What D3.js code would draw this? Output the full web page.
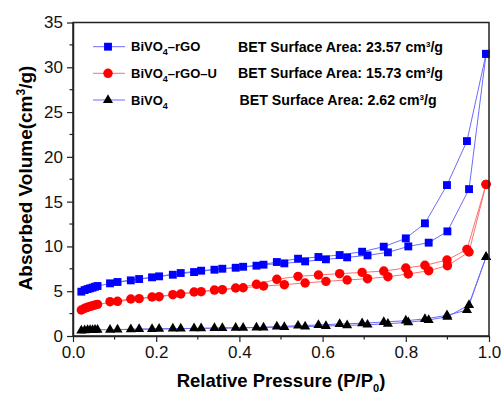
<!DOCTYPE html>
<html>
<head>
<meta charset="utf-8">
<script src="https://cdn.jsdelivr.net/npm/d3@7"></script>
<style>
  body { margin: 0; background: #fff; }
  text { font-family: "Liberation Sans", Arial, sans-serif; }
</style>
</head>
<body>
<script>
// relative pressure points, adsorption (up) and desorption (down) branches
var adsX = [0.02, 0.028, 0.035, 0.041, 0.047, 0.053, 0.059, 0.107, 0.159, 0.207, 0.259, 0.308, 0.359,
            0.409, 0.458, 0.508, 0.558, 0.608, 0.659, 0.708, 0.757, 0.806, 0.855, 0.90, 0.952, 0.993];
var desX = [0.993, 0.947, 0.899, 0.846, 0.80, 0.747, 0.695, 0.641, 0.59, 0.541, 0.49, 0.441, 0.391,
            0.34, 0.291, 0.24, 0.19, 0.139, 0.089];

var rgoAds = [4.95, 5.13, 5.24, 5.32, 5.40, 5.50, 5.58, 6.03, 6.36, 6.66, 7.03, 7.29, 7.51,
              7.73, 7.96, 8.11, 8.33, 8.56, 8.78, 9.0, 9.34, 10.0, 10.42, 11.68, 16.4, 31.5];
var rgoDes = [31.5, 21.76, 16.85, 12.58, 10.9, 9.97, 9.41, 9.04, 8.82, 8.63, 8.26, 7.85, 7.62,
              7.40, 7.14, 6.84, 6.55, 6.21, 5.88];

var rgoUAds = [2.9, 3.09, 3.2, 3.31, 3.38, 3.46, 3.53, 3.87, 4.17, 4.39, 4.69, 4.95, 5.17,
               5.39, 5.58, 5.73, 5.92, 6.1, 6.25, 6.4, 6.62, 6.92, 7.29, 7.85, 9.38, 16.93];
var rgoUDes = [16.93, 9.67, 8.48, 7.89, 7.59, 7.25, 7.1, 6.96, 6.81, 6.66, 6.33, 5.77, 5.36,
               5.13, 4.91, 4.61, 4.35, 4.13, 3.83];

var bvAds = [0.6, 0.63, 0.65, 0.66, 0.67, 0.68, 0.69, 0.72, 0.76, 0.79, 0.82, 0.85, 0.88,
             0.92, 0.95, 1.0, 1.04, 1.12, 1.19, 1.26, 1.37, 1.53, 1.79, 2.15, 3.46, 8.82];
var bvDes = [8.82, 2.9, 2.31, 1.9, 1.71, 1.56, 1.42, 1.34, 1.23, 1.15, 1.04, 0.95, 0.92,
             0.88, 0.85, 0.82, 0.78, 0.74, 0.7];

var names = ["BiVO|4|\u2013rGO", "BiVO|4|\u2013rGO\u2013U", "BiVO|4|"];
var bet = ["23.57", "15.73", "2.62"];

var xTicks = [0, 0.2, 0.4, 0.6, 0.8, 1.0];
var yTicks = [0, 5, 10, 15, 20, 25, 30, 35];

var series = [
  {ads: rgoAds, des: rgoDes, fill: "#0000ff", line: "#6b6bff", sym: d3.symbolSquare, size: 62},
  {ads: rgoUAds, des: rgoUDes, fill: "#ff0000", line: "#ff7070", sym: d3.symbolCircle, size: 70},
  {ads: bvAds, des: bvDes, fill: "#000000", line: "#6b6bff", sym: d3.symbolTriangle, size: 44}
];

var W = 503, H = 394;
var m = {left: 73, right: 14, top: 22.5, bottom: 58};

var svg = d3.select("body").append("svg").attr("width", W).attr("height", H);

var x = d3.scaleLinear().domain([0, 1]).range([m.left, W - m.right]);
var y = d3.scaleLinear().domain([0, 35]).range([H - m.bottom, m.top]);

var line = d3.line().x(function(d) { return x(d[0]); }).y(function(d) { return y(d[1]); });

series.forEach(function(s) {
  var a = adsX.map(function(v, i) { return [v, s.ads[i]]; });
  var d = desX.map(function(v, i) { return [v, s.des[i]]; });
  [a, d].forEach(function(pts) {
    svg.append("path").attr("d", line(pts))
      .attr("fill", "none").attr("stroke", s.line).attr("stroke-width", 1);
  });
  svg.append("g").selectAll("path").data(a.concat(d)).enter().append("path")
    .attr("transform", function(p) { return "translate(" + x(p[0]) + "," + y(p[1]) + ")"; })
    .attr("d", d3.symbol().type(s.sym).size(s.size))
    .attr("fill", s.fill);
});

// frame
svg.append("rect")
  .attr("x", m.left).attr("y", m.top)
  .attr("width", W - m.left - m.right).attr("height", H - m.top - m.bottom)
  .attr("fill", "none").attr("stroke", "#222").attr("stroke-width", 1.5);

function minor(g, vals, horiz) {
  g.selectAll("line.mn").data(vals).enter().append("line")
    .attr("stroke", "#222").attr("stroke-width", 1.2)
    .attr("x1", function(v) { return horiz ? x(v) : m.left; })
    .attr("x2", function(v) { return horiz ? x(v) : m.left - 3.5; })
    .attr("y1", function(v) { return horiz ? H - m.bottom : y(v); })
    .attr("y2", function(v) { return horiz ? H - m.bottom + 3.5 : y(v); });
}

var gx = svg.append("g").attr("transform", "translate(0," + (H - m.bottom) + ")")
  .call(d3.axisBottom(x).tickValues(xTicks).tickFormat(d3.format(".1f")).tickSize(6).tickSizeOuter(0).tickPadding(4));
var gy = svg.append("g").attr("transform", "translate(" + m.left + ",0)")
  .call(d3.axisLeft(y).tickValues(yTicks).tickSize(6).tickSizeOuter(0).tickPadding(4));

[gx, gy].forEach(function(g) {
  g.select(".domain").attr("stroke", "#222").attr("stroke-width", 1.5);
  g.selectAll(".tick line").attr("stroke", "#222").attr("stroke-width", 1.2);
  g.selectAll(".tick text").attr("font-size", 17).attr("fill", "#111")
    .style("font-family", "'Liberation Sans', Arial, sans-serif");
});
minor(svg, [0.1, 0.3, 0.5, 0.7, 0.9], true);
minor(svg, [2.5, 7.5, 12.5, 17.5, 22.5, 27.5, 32.5], false);

// axis titles
var xt = svg.append("text").attr("x", x(0.5)).attr("y", 387)
  .attr("text-anchor", "middle").attr("font-size", 18.5).attr("font-weight", "bold");
xt.append("tspan").text("Relative Pressure (P/P");
xt.append("tspan").attr("dy", 5).attr("font-size", 11).text("0");
xt.append("tspan").attr("dy", -5).text(")");

var yt = svg.append("text").attr("transform", "translate(32," + 178 + ") rotate(-90)")
  .attr("text-anchor", "middle").attr("font-size", 19).attr("font-weight", "bold");
yt.append("tspan").text("Absorbed Volume(cm");
yt.append("tspan").attr("dy", -7).attr("font-size", 12).text("3");
yt.append("tspan").attr("dy", 7).text("/g)");

// legend
var rowY = [46.7, 73.3, 100];
series.forEach(function(s, i) {
  var g = svg.append("g").attr("transform", "translate(0," + rowY[i] + ")");
  g.append("line").attr("x1", 93).attr("x2", 125).attr("stroke", s.line).attr("stroke-width", 1);
  g.append("path").attr("transform", "translate(108,0)")
    .attr("d", d3.symbol().type(s.sym).size(s.size)).attr("fill", s.fill);
  var t = g.append("text").attr("x", 131).attr("y", 4.5).attr("font-size", 13).attr("font-weight", "bold");
  names[i].split("|").forEach(function(part, k) {
    if (k === 1) t.append("tspan").attr("dy", 4).attr("font-size", 9).text(part);
    else if (k === 2) t.append("tspan").attr("dy", -4).text(part);
    else t.append("tspan").text(part);
  });
  var b = g.append("text").attr("x", i === 2 ? 239.5 : 238).attr("y", 5).attr("font-size", 14.2).attr("font-weight", "bold");
  b.append("tspan").text("BET Surface Area: " + bet[i] + " cm");
  b.append("tspan").attr("dy", -5).attr("font-size", 8).text("3");
  b.append("tspan").attr("dy", 5).text("/g");
});
</script>
</body>
</html>
